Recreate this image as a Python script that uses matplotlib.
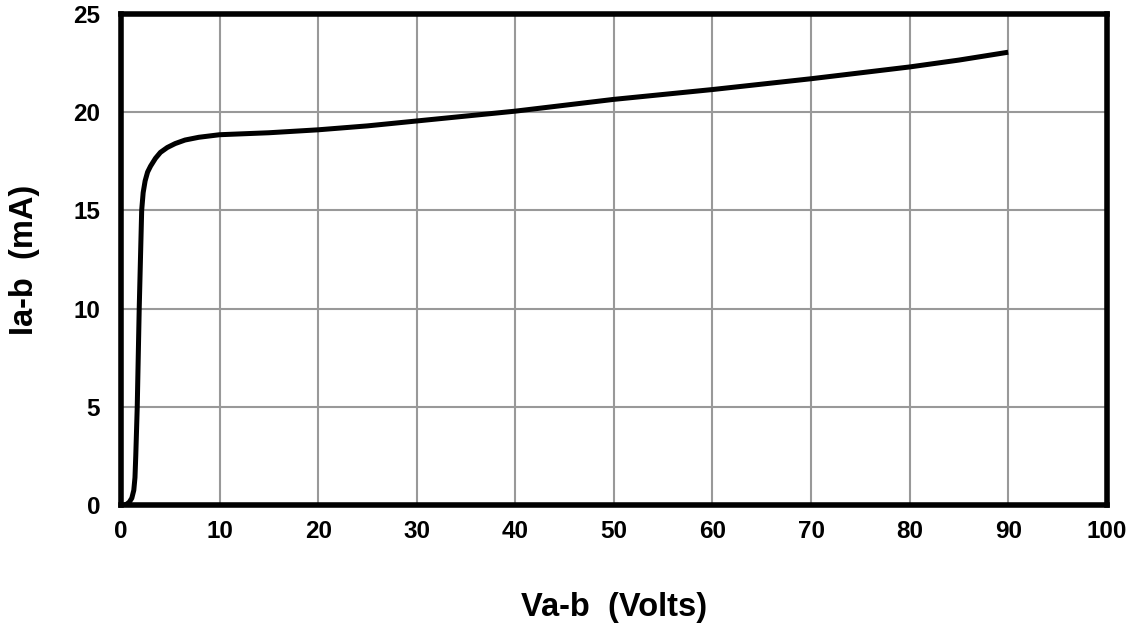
import matplotlib.pyplot as plt
from matplotlib import font_manager as fm

# keep the bold text from resolving to the narrow variant
fm.fontManager.ttflist = [f for f in fm.fontManager.ttflist if 'Narrow' not in f.name]
plt.rcParams['font.family'] = ['Liberation Sans', 'DejaVu Sans']

# I-V curve
volts = [0.35, 0.6, 0.85, 1.1, 1.3, 1.42, 1.5, 1.65, 1.85, 2.0, 2.1, 2.25, 2.45, 2.7, 3.0,
         3.5, 4.0, 4.7, 5.5, 6.5, 7.9, 10, 15, 20, 25, 30, 40, 50, 60, 70, 80, 85, 90]
milliamps = [0.0, 0.05, 0.15, 0.35, 0.75, 1.4, 2.5, 5.0, 10.0, 13.0, 15.0, 15.9, 16.5,
             16.95, 17.25, 17.65, 17.95, 18.2, 18.4, 18.58, 18.72, 18.85, 18.95, 19.1,
             19.3, 19.55, 20.05, 20.65, 21.15, 21.7, 22.3, 22.65, 23.05]

fig = plt.figure(figsize=(11.37, 6.24), dpi=100)
ax = fig.add_axes([0.1064, 0.1907, 0.867, 0.787])

ax.plot(volts, milliamps, color='black', linewidth=3.6, solid_capstyle='butt', zorder=3)

ax.set_xlim(0, 100)
ax.set_ylim(0, 25)
ax.set_xticks(range(0, 101, 10))
ax.set_yticks(range(0, 26, 5))
ax.grid(True, color='#999999', linewidth=1.5)
ax.set_axisbelow(True)
for s in ax.spines.values():
    s.set_linewidth(4)
    s.set_color('black')
ax.tick_params(length=0, labelsize=17.5)
ax.tick_params(axis='x', pad=11)
ax.tick_params(axis='y', pad=15)
for lbl in ax.get_xticklabels() + ax.get_yticklabels():
    lbl.set_fontweight('bold')

ax.set_xlabel('Va-b  (Volts)', fontsize=23.5, fontweight='bold', labelpad=35)
ax.set_ylabel('Ia-b  (mA)', fontsize=23.5, fontweight='bold', labelpad=24)

fig.savefig('out.png', dpi=100)
